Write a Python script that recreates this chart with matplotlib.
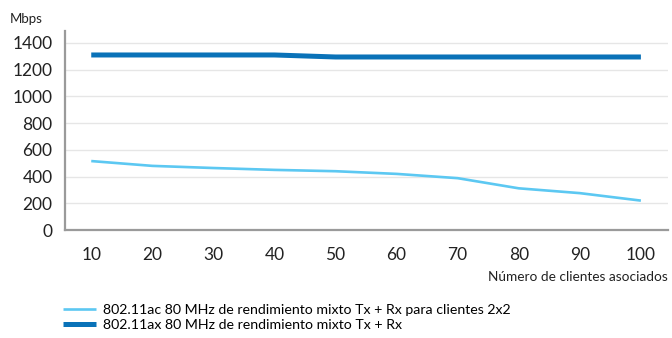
import numpy as np
import matplotlib.pyplot as plt

plt.rcParams['font.family'] = ['Lato', 'DejaVu Sans']

clients = [10, 20, 30, 40, 50, 60, 70, 80, 90, 100]
ac_mbps = [516, 480, 464, 450, 440, 420, 388, 312, 276, 220]
ax_mbps = [1310, 1310, 1310, 1310, 1295, 1295, 1295, 1295, 1295, 1295]

label_ac = '802.11ac 80 MHz de rendimiento mixto Tx + Rx para clientes 2x2'
label_ax = '802.11ax 80 MHz de rendimiento mixto Tx + Rx'

fig = plt.figure(figsize=(6.72, 3.38), dpi=100)
ax = fig.add_axes([0.0967, 0.3195, 0.897, 0.589])

l1, = ax.plot(clients, ac_mbps, color='#5cc8f2', lw=1.9, solid_capstyle='butt')
l2, = ax.plot(clients, ax_mbps, color='#0a72b8', lw=3.6, solid_capstyle='butt')

ax.set_xlim(5.7, 104.4)
ax.set_ylim(0, 1490)
ax.set_xticks(clients)
ax.set_yticks(np.arange(0, 1401, 200))
ax.grid(axis='y', color='#e6e6e6', lw=1)
ax.set_axisbelow(True)
for s in ['top', 'right']:
    ax.spines[s].set_visible(False)
for s in ['left', 'bottom']:
    ax.spines[s].set_color('#9a9a9a')
    ax.spines[s].set_linewidth(1.6)
ax.tick_params(length=0, labelsize=12.5, colors='#222222', pad=9)
ax.tick_params(axis='x', pad=12)

fig.text(0.015, 0.945, 'Mbps', fontsize=9.5, color='#222222', va='center')
fig.text(0.994, 0.18, 'Número de clientes asociados', fontsize=9.8,
         color='#222222', ha='right', va='center')

fig.legend([l1, l2], [label_ac, label_ax], loc='upper left',
           bbox_to_anchor=(0.094, 0.10), frameon=False, fontsize=10.2,
           handlelength=2.3, handletextpad=0.5, labelspacing=0.2,
           borderaxespad=0, borderpad=0)

fig.savefig('out.png', dpi=100)
